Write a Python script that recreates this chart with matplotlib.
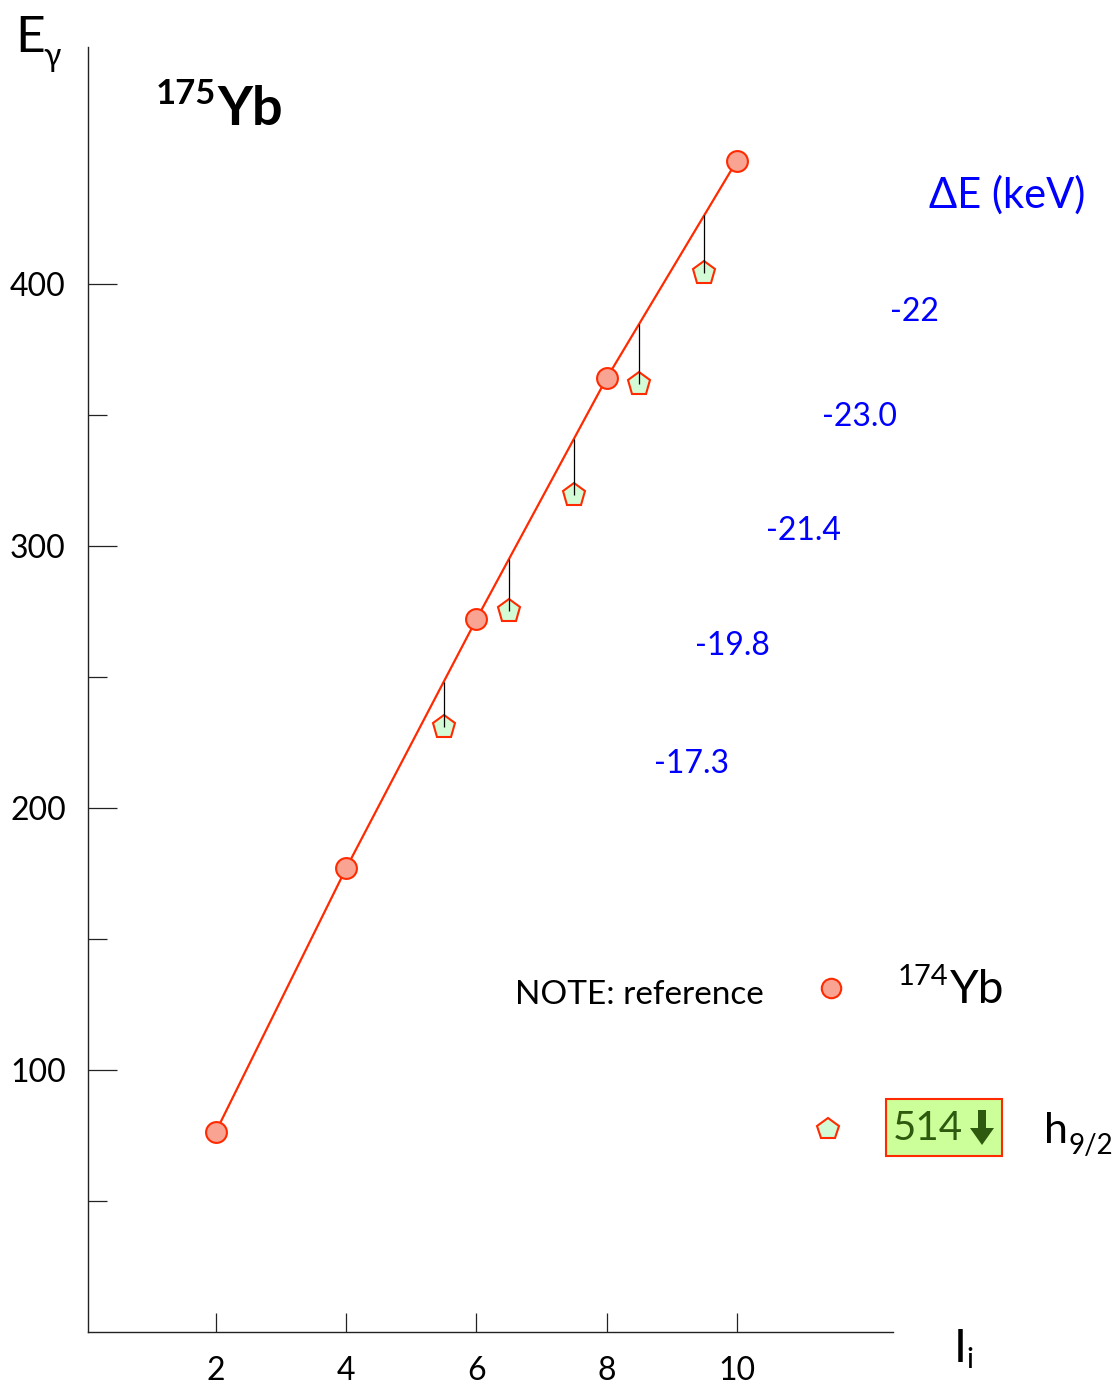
import matplotlib
matplotlib.use("Agg")
import matplotlib.pyplot as plt
from matplotlib.patches import Rectangle, Polygon
import numpy as np

# Reference band (174Yb ground band): spin and gamma energy, keV
I_REF = [2, 4, 6, 8, 10]
E_REF = [76.5, 177.0, 272.0, 364.0, 447.0]

# 175Yb h9/2 [514] band: initial spin and shift relative to the reference line
I_BAND = [5.5, 6.5, 7.5, 8.5, 9.5]
DELTA_E = [-17.3, -19.8, -21.4, -23.0, -22.0]
DELTA_LABELS = ["-17.3", "-19.8", "-21.4", "-23.0", "-22"]

# where the shift values are written (data coords)
LABEL_X = [9.31, 9.94, 11.03, 11.89, 12.73]
LABEL_Y = [216.8, 261.8, 305.7, 349.2, 389.3]

X_TICKS = [2, 4, 6, 8, 10]
Y_TICKS = [100, 200, 300, 400]
Y_MINOR = [50, 150, 250, 350]

FONT = ["Lato", "DejaVu Sans"]
plt.rcParams["font.family"] = FONT

RED = "#ff2a00"
CIRCLE_FACE = "#f9a393"
PENT_FACE = "#d3fbd6"
BLUE = "#0000ff"
DARK_GREEN = "#2d5a0e"

W, H = 1120, 1386
fig = plt.figure(figsize=(W / 100, H / 100), dpi=100)


def px(x, y):
    """pixel position (from top-left) -> figure fraction"""
    return x / W, 1 - y / H


ax = fig.add_axes([88 / W, 54 / H, (893 - 88) / W, (1332 - 47) / H])
ax.set_xlim(0.035, 12.4)
ax.set_ylim(0, 490.5)

for side in ["top", "right"]:
    ax.spines[side].set_visible(False)
for side in ["left", "bottom"]:
    ax.spines[side].set_color("#222222")
    ax.spines[side].set_linewidth(1.0)

ax.set_xticks(X_TICKS)
ax.set_yticks(Y_TICKS)
ax.set_yticks(Y_MINOR, minor=True)
ax.tick_params(axis="x", direction="in", length=14, width=0.9, color="#222222",
               pad=17, labelsize=23)
ax.tick_params(axis="y", which="major", direction="in", length=21, width=0.9,
               color="#222222", pad=16, labelsize=23)
ax.tick_params(axis="y", which="minor", direction="in", length=14, width=0.9,
               color="#222222")

# reference band and the h9/2 band below it
e_line = np.interp(I_BAND, I_REF, E_REF)
e_band = e_line + np.array(DELTA_E)

ax.plot(I_REF, E_REF, color=RED, lw=1.6, zorder=2)
ax.plot(I_REF, E_REF, "o", ms=15, mfc=CIRCLE_FACE, mec=RED, mew=1.5, zorder=4)
ax.plot(I_BAND, e_band, "p", ms=17, mfc=PENT_FACE, mec=RED, mew=1.5, zorder=3)
ax.vlines(I_BAND, e_band, e_line, color="black", lw=0.9, zorder=3.5)

for lx, ly, txt in zip(LABEL_X, LABEL_Y, DELTA_LABELS):
    ax.text(lx, ly, txt, color=BLUE, fontsize=23, ha="center", va="center",
            clip_on=False)

# axis titles
fig.text(*px(15, 52), "E", fontsize=37, ha="left", va="baseline")
fig.text(*px(43, 66), "γ", fontsize=23, ha="left", va="baseline")
fig.text(*px(954, 1362), "I", fontsize=33, ha="left", va="baseline")
fig.text(*px(966, 1368), "i", fontsize=21, ha="left", va="baseline")

# nucleus label
fig.text(*px(156, 104), "175", fontsize=25, fontweight="bold", ha="left",
         va="baseline")
fig.text(*px(217, 125), "Yb", fontsize=39, fontweight="bold", ha="left",
         va="baseline")

fig.text(*px(929, 195), "ΔE (keV)", color=BLUE, fontsize=30, ha="left",
         va="center")

# key
fig.text(*px(515, 995), "NOTE: reference", fontsize=24, ha="left", va="center")
ax.plot(*px(831, 988), "o", ms=14, mfc=CIRCLE_FACE, mec=RED, mew=1.5,
        transform=fig.transFigure, clip_on=False)
fig.text(*px(898, 985), "174", fontsize=21, ha="left", va="baseline")
fig.text(*px(950, 1003), "Yb", fontsize=33, ha="left", va="baseline")

ax.plot(*px(828, 1129), "p", ms=16, mfc=PENT_FACE, mec=RED, mew=1.5,
        transform=fig.transFigure, clip_on=False)
box_x, box_y = px(886, 1156)
fig.patches.append(Rectangle((box_x, box_y), (1002 - 886) / W, (1156 - 1099) / H,
                             transform=fig.transFigure, facecolor="#ccff99",
                             edgecolor=RED, lw=1.5))
fig.text(*px(893, 1128), "514", color=DARK_GREEN, fontsize=29, ha="left",
         va="center")
# heavy down arrow next to the orbital label
arrow = [(978, 1110), (986, 1110), (986, 1128), (994, 1128), (982, 1145),
         (970, 1128), (978, 1128)]
fig.patches.append(Polygon([px(x, y) for x, y in arrow], closed=True,
                           transform=fig.transFigure, facecolor=DARK_GREEN,
                           edgecolor="none"))
fig.text(*px(1044, 1143), "h", fontsize=31, ha="left", va="baseline")
fig.text(*px(1068, 1154), "9/2", fontsize=20, ha="left", va="baseline")

fig.savefig("out.png", dpi=100)
